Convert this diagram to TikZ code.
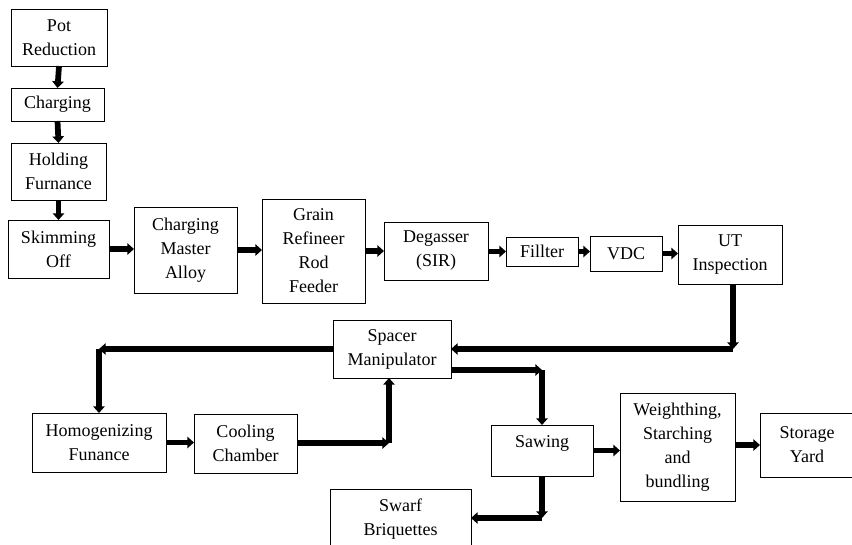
\documentclass[tikz,border=0pt]{standalone}
\usepackage{fontspec}
\setmainfont{Liberation Serif}
\usetikzlibrary{arrows.meta}
\tikzset{
  box/.style={draw, line width=0.75pt, align=center, inner sep=0pt, outer sep=0pt,
    font=\fontsize{13.5pt}{18pt}\selectfont},
  arr/.style={line width=4.3pt, -{Triangle[length=5pt,width=8.5pt]}},
}
% name, x1, y1, x2, y2, text  (pixel coordinates, y downward)
\newcommand\bx[6]{\node[box, minimum width={(#4-#2)*0.75pt}, minimum height={(#5-#3)*0.75pt}]
  (#1) at ({(#2+#4)/2},{(#3+#5)/2}) {#6};}
\begin{document}
\begin{tikzpicture}[x=0.75pt,y=-0.75pt]
\useasboundingbox (0,0) rectangle (852,544);
% top column
\bx{pot}{11}{9}{107}{66}{Pot\\Reduction}
\bx{chg}{11}{88}{104}{121}{Charging}
\bx{hold}{11}{143}{106}{200}{Holding\\Furnance}
\bx{skim}{8}{220}{109}{278}{Skimming\\Off}
% main row
\bx{cma}{134}{207}{237}{293}{Charging\\Master\\Alloy}
\bx{grain}{262}{199}{365}{303}{Grain\\Refineer\\Rod\\Feeder}
\bx{deg}{384}{222}{488}{280}{Degasser\\(SIR)}
\bx{fil}{506}{237}{578}{266}{Fillter}
\bx{vdc}{590}{236}{662}{271}{VDC}
\bx{ut}{678}{225}{782}{284}{UT\\Inspection}
% middle
\bx{sp}{333}{320}{451}{378}{Spacer\\Manipulator}
\bx{hom}{32}{413}{166}{472}{Homogenizing\\Funance}
\bx{cool}{194}{414}{297}{473}{Cooling\\Chamber}
\bx{saw}{491}{425}{593}{476}{Sawing\\[-4.5pt]\mbox{}}
\bx{wb}{620}{393}{735}{501}{Weighthing,\\Starching\\and\\bundling}
\bx{sy}{760}{413}{854}{477}{Storage\\Yard}
\bx{sw}{330}{489}{471}{549}{Swarf\\Briquettes}
% corners
\coordinate (c1) at (733,349);
\coordinate (c2) at (99,349);
\coordinate (c3) at (389,443);
\coordinate (c4) at (542,370);
\coordinate (c5) at (542,518);
% connectors
\draw[arr] (pot.south) -- (chg.north);
\draw[arr] (chg.south) -- (hold.north);
\draw[arr] (hold.south) -- (skim.north);
\draw[arr] (skim.east) -- (skim.east -| cma.west);
\draw[arr] (cma.east) -- (cma.east -| grain.west);
\draw[arr] (grain.east |- deg.west) -- (deg.west);
\draw[arr] (deg.east |- fil.west) -- (fil.west);
\draw[arr] (fil.east) -- (fil.east -| vdc.west);
\draw[arr] (vdc.east) -- (vdc.east -| ut.west);
\draw[arr] (ut.south -| c1) -- (c1);
\draw[arr] (c1) -- (c1 -| sp.east);
\draw[arr] (sp.west |- c2) -- (c2);
\draw[arr] (c2) -- (c2 |- hom.north);
\draw[arr] (hom.east) -- (hom.east -| cool.west);
\draw[arr] (cool.east |- c3) -- (c3);
\draw[arr] (c3) -- (c3 |- sp.south);
\draw[arr] (sp.east |- c4) -- (c4);
\draw[arr] (c4) -- (c4 |- saw.north);
\draw[arr] (saw.south -| c5) -- (c5);
\draw[arr] (c5) -- (c5 -| sw.east);
\draw[arr] (saw.east) -- (saw.east -| wb.west);
\draw[arr] (wb.east |- sy.west) -- (sy.west);
\end{tikzpicture}
\end{document}
